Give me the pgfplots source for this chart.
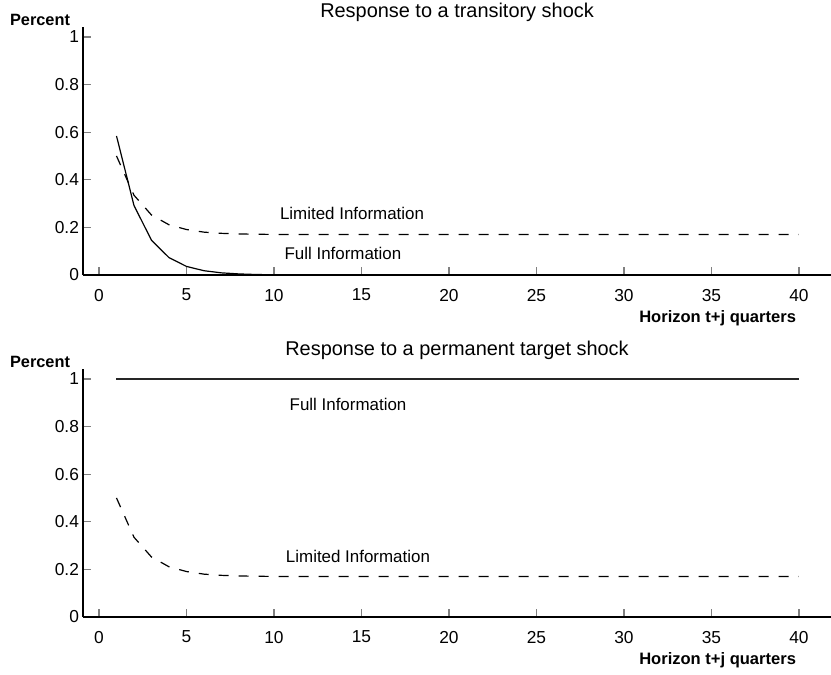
\documentclass[border=0pt]{standalone}
\usepackage{fontspec}
\setmainfont{Liberation Sans}
\usepackage{pgfplots}
\pgfplotsset{compat=1.18}

\pgfplotstableread{
x full lim
1 0.584 0.500
2 0.292 0.335
3 0.146 0.252
4 0.073 0.211
5 0.036 0.191
6 0.018 0.180
7 0.009 0.175
8 0.0045 0.1725
9 0.002 0.171
10 0.001 0.1705
11 0.0005 0.170
12 0 0.170
15 0 0.170
20 0 0.170
25 0 0.170
30 0 0.170
35 0 0.170
40 0 0.170
}\transitory

\pgfplotstableread{
x full lim
1 1 0.500
2 1 0.335
3 1 0.252
4 1 0.211
5 1 0.191
6 1 0.180
7 1 0.175
8 1 0.1725
9 1 0.171
10 1 0.1705
11 1 0.170
12 1 0.170
15 1 0.170
20 1 0.170
25 1 0.170
30 1 0.170
35 1 0.170
40 1 0.170
}\permanent

\pgfplotsset{resp/.style={
  scale only axis, width=374bp, height=123.8bp,
  xmin=-0.914, xmax=41.83, ymin=0, ymax=1.04,
  axis lines*=left, clip=false,
  xtick={0,5,...,40}, ytick={0,0.2,0.4,0.6,0.8,1},
  yticklabels={0,0.2,0.4,0.6,0.8,1},
  tick align=inside, major tick length=4bp,
  axis line style={line width=0.6bp},
  tick style={line width=0.6bp},
  every tick label/.append style={font=\fontsize{8.7}{10}\selectfont},
  /pgf/number format/assume math mode=true,
  xticklabel style={yshift=-3.5bp},
  yticklabel style={xshift=1.5bp},
}}

\begin{document}
\begin{tikzpicture}
\useasboundingbox (-41.5bp,-200bp) rectangle (374bp,137.5bp);
\begin{axis}[resp]
\addplot[black, line width=0.6bp] table[x=x,y=full]{\transitory};
\addplot[black, line width=0.6bp, dash pattern=on 5bp off 5bp] table[x=x,y=lim]{\transitory};
\node[font=\fontsize{10}{12}\selectfont, anchor=base] at (axis cs:20.46,1.083) {Response to a transitory shock};
\node[font=\bfseries\fontsize{8.2}{10}\selectfont] at (axis cs:-3.37,1.071) {Percent};
\node[font=\bfseries\fontsize{8.3}{10}\selectfont, anchor=east] at (axis cs:40.23,-0.18) {Horizon t+j quarters};
\node[font=\fontsize{8.5}{10}\selectfont] at (axis cs:14.46,0.26) {Limited Information};
\node[font=\fontsize{8.5}{10}\selectfont] at (axis cs:13.94,0.092) {Full Information};
\end{axis}
\begin{axis}[resp, at={(0,-171bp)}]
\addplot[black!85, line width=0.6bp] table[x=x,y=full]{\permanent};
\addplot[black, line width=0.6bp, dash pattern=on 5bp off 5bp] table[x=x,y=lim]{\permanent};
\node[font=\fontsize{10}{12}\selectfont, anchor=base] at (axis cs:20.46,1.1) {Response to a permanent target shock};
\node[font=\bfseries\fontsize{8.2}{10}\selectfont] at (axis cs:-3.37,1.071) {Percent};
\node[font=\bfseries\fontsize{8.3}{10}\selectfont, anchor=east] at (axis cs:40.23,-0.18) {Horizon t+j quarters};
\node[font=\fontsize{8.5}{10}\selectfont] at (axis cs:14.8,0.256) {Limited Information};
\node[font=\fontsize{8.5}{10}\selectfont] at (axis cs:14.23,0.891) {Full Information};
\end{axis}
\end{tikzpicture}
\end{document}
